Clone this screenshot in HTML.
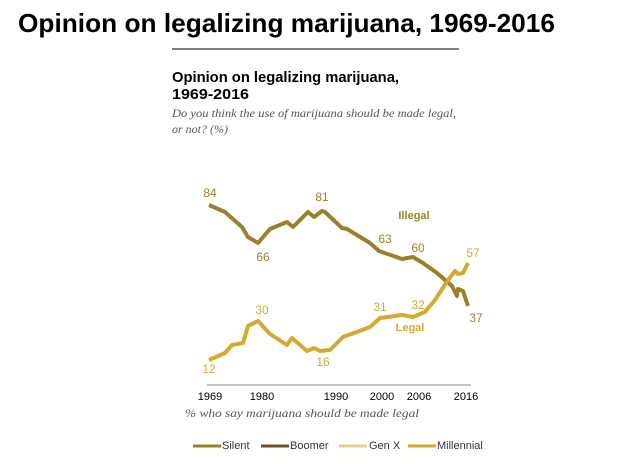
<!DOCTYPE html>
<html><head><style>
html,body{margin:0;padding:0;background:#fff;}
svg{display:block;}
</style></head><body>
<svg width="622" height="464" viewBox="0 0 622 464" xmlns="http://www.w3.org/2000/svg" font-family="Liberation Sans, sans-serif">
<text x="18" y="32" font-size="26" font-weight="bold" fill="#000" textLength="537" lengthAdjust="spacingAndGlyphs">Opinion on legalizing marijuana, 1969-2016</text>
<line x1="172" y1="49" x2="459" y2="49" stroke="#000" stroke-width="1"/>
<text x="172" y="82" font-size="15" font-weight="bold" fill="#000" textLength="227" lengthAdjust="spacingAndGlyphs">Opinion on legalizing marijuana,</text>
<text x="172" y="99" font-size="15" font-weight="bold" fill="#000" textLength="77" lengthAdjust="spacingAndGlyphs">1969-2016</text>
<text x="172" y="117" font-size="12" font-style="italic" font-family="Liberation Serif, serif" fill="#555" textLength="284" lengthAdjust="spacingAndGlyphs">Do you think the use of marijuana should be made legal,</text>
<text x="172" y="133" font-size="12" font-style="italic" font-family="Liberation Serif, serif" fill="#555">or not? (%)</text>

<polyline fill="none" stroke="#9c7f2b" stroke-width="4" stroke-linejoin="round" points="209,205 225,212 242,227 248,237 258,243 270,229 287,222 293,227 308,212 314,217 322,211 325,212 342,228 347,229 370,243 379,251 402,259 413,257 423,263 437,273 452,286 457,296 458,289 463,291 468,306"/>
<polyline fill="none" stroke="#d5a92f" stroke-width="4" stroke-linejoin="round" points="209,360 225,353 232,345 243,343 248,326 258,321 270,334 287,345 292,338 307,351 314,348 320,351 330,350 343,337 357,332 370,327 380,318 402,315 413,317 425,312 435,300 448,280 455,271 458,274 463,273 468,263"/>

<g font-size="12" fill="#9c7f2b" text-anchor="middle">
<text x="210" y="197">84</text>
<text x="263" y="261">66</text>
<text x="322" y="201">81</text>
<text x="385" y="243">63</text>
<text x="418" y="252">60</text>
<text x="476" y="322">37</text>
<text x="414" y="219" font-weight="bold" font-size="11">Illegal</text>
</g>
<g font-size="12" fill="#d5a92f" text-anchor="middle">
<text x="262" y="314">30</text>
<text x="209" y="373">12</text>
<text x="323" y="366">16</text>
<text x="380" y="311">31</text>
<text x="418" y="309">32</text>
<text x="473" y="257">57</text>
<text x="410" y="331" font-weight="bold" font-size="11">Legal</text>
</g>

<line x1="207" y1="385" x2="471" y2="385" stroke="#888" stroke-width="1"/>
<g font-size="11" fill="#000" text-anchor="middle">
<text x="210" y="400">1969</text>
<text x="262" y="400">1980</text>
<text x="336" y="400">1990</text>
<text x="382" y="400">2000</text>
<text x="419" y="400">2006</text>
<text x="466" y="400">2016</text>
</g>
<text x="185" y="417" font-size="12" font-style="italic" font-family="Liberation Serif, serif" fill="#555" textLength="234" lengthAdjust="spacingAndGlyphs">% who say marijuana should be made legal</text>

<g font-size="11" fill="#333">
<line x1="193" y1="446" x2="221" y2="446" stroke="#9c7f2b" stroke-width="3"/>
<text x="222" y="449">Silent</text>
<line x1="261" y1="446" x2="289" y2="446" stroke="#6b5420" stroke-width="3"/>
<text x="290" y="449">Boomer</text>
<line x1="339" y1="446" x2="367" y2="446" stroke="#e5cf8e" stroke-width="3"/>
<text x="369" y="449">Gen X</text>
<line x1="408" y1="446" x2="436" y2="446" stroke="#d5a92f" stroke-width="3"/>
<text x="437" y="449">Millennial</text>
</g>
</svg>
</body></html>
